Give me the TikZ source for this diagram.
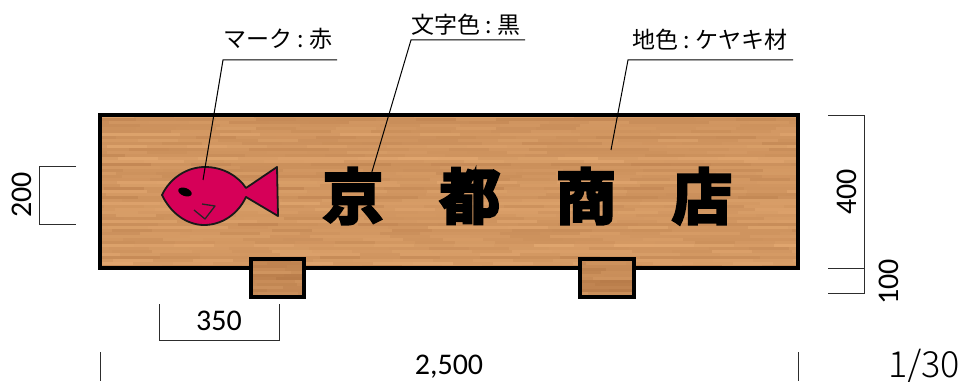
\documentclass[tikz,border=0pt]{standalone}
\usepackage{fontspec}
\setmainfont{Carlito}
\newfontfamily\jpfont{Noto Sans CJK JP}
\newfontfamily\thinfont{Noto Sans CJK JP Light}
\newfontfamily\signfont[FakeBold=5]{Noto Sans CJK JP Bold}
\usetikzlibrary{calc,positioning}

\definecolor{woodlight}{RGB}{230,172,116}
\definecolor{wooddark}{RGB}{184,124,74}
\definecolor{fishred}{RGB}{214,0,88}
\definecolor{dimgray}{RGB}{45,45,45}

\newcommand{\lblcolon}{\kern5.5pt:\kern5.5pt}
\newcommand{\woodpatch}[5]{%
  \begin{scope}
    \clip (#1,#2) rectangle (#3,#4);
    \foreach \y in {#2,...,#4} {
      \ifnum\numexpr\y-#2-3*((\y-#2-1)/3)\relax=0
      \pgfmathtruncatemacro{\rowtone}{random(#5,#5+40)}
      \pgfmathtruncatemacro{\rowshift}{random(0,40)}
      \foreach \x in {0,1,...,18} {
        \pgfmathtruncatemacro{\patchtone}{min(100,max(0,\rowtone+random(-12,12)))}
        \fill[woodlight!\patchtone!wooddark] ($(#1,\y)+(\x*40-\rowshift,0)$) rectangle ++(40.5,3.5);
      }
      \fi
    }
  \end{scope}
}

\begin{document}
\begin{tikzpicture}[x=1pt, y=-1pt, semithick,
   leader/.style={line width=1pt, black},
   dimline/.style={line width=0.9pt, dimgray},
   outline/.style={line width=3.1pt, black},
   label/.style={font=\jpfont\fontsize{23}{26}\selectfont, inner sep=0pt},
   dimtext/.style={font=\fontsize{30}{34}\selectfont, inner sep=0pt},
   signchar/.style={font=\signfont\fontsize{60}{64}\selectfont, inner sep=0pt}]

  \useasboundingbox (0,0) rectangle (966,382);
  \pgfmathsetseed{4711}

  % board
  \woodpatch{100}{115}{798}{268}{35}
  \draw[outline] (100,115) rectangle (798,268);
  % feet
  \woodpatch{251}{259}{304}{297}{5}
  \woodpatch{580}{259}{634}{297}{5}
  \draw[outline] (251,259) rectangle (304,297);
  \draw[outline] (580,259) rectangle (634,297);

  % fish
  \draw[fill=fishred, line width=1.8pt, draw=black!90, line join=round]
    (162,195) .. controls (170,178) and (187,167) .. (205,167)
    .. controls (223,167) and (238,176) .. (246,188)
    -- (277,167) -- (278,216) -- (246,197)
    .. controls (238,214) and (222,225) .. (204,225)
    .. controls (186,225) and (170,212) .. (162,195) -- cycle;
  \fill[black, rotate around={-20:(185,192)}] (185,192) ellipse (7 and 4);
  \draw[line width=1.3pt, draw=black!85, line join=round]
    (194,210) -- (205,219) -- (215,206) -- (202,204);

  % sign characters
  \node[signchar] (sign1) at (353,196) {京};
  \node[signchar] (sign2) at (470,196) {都};
  \node[signchar] (sign3) at (586,196) {商};
  \node[signchar] (sign4) at (702,196) {店};

  % leaders
  \coordinate (markhead) at (223,60);
  \coordinate (markshelf) at (337,60);
  \coordinate (marktip) at (203,180);
  \coordinate (charhead) at (411,40);
  \coordinate (charshelf) at (525,40);
  \coordinate (chartip) at (371,175);
  \coordinate (woodhead) at (628,60);
  \coordinate (woodshelf) at (793,60);
  \coordinate (woodtip) at (611,150);
  \draw[leader] (marktip) -- (markhead) -- (markshelf);
  \draw[leader] (chartip) -- (charhead) -- (charshelf);
  \draw[leader] (woodtip) -- (woodhead) -- (woodshelf);
  \node[label] (marklabel) at (278,39) {マーク\lblcolon 赤};
  \node[label] (charlabel) at (466,25) {文字色\lblcolon 黒};
  \node[label] (woodlabel) at (710,40) {地色\lblcolon ケヤキ材};

  % dimensions
  \coordinate (fisha) at (76,166);
  \coordinate (fishb) at (39,166);
  \coordinate (fishc) at (39,224);
  \coordinate (fishd) at (76,224);
  \draw[dimline] (fisha) -- (fishb) -- (fishc) -- (fishd);
  \node[dimtext, rotate=90] (fishdim) at (22,195) {200};

  \coordinate (boardtop) at (828,115);
  \coordinate (boardcorner) at (864,115);
  \coordinate (boardbot) at (828,268);
  \coordinate (boardmid) at (864,268);
  \coordinate (footbot) at (828,293);
  \coordinate (footcorner) at (864,293);
  \draw[dimline] (boardtop) -- (boardcorner) -- (footcorner) -- (footbot);
  \draw[dimline] (boardbot) -- (boardmid);
  \node[dimtext, rotate=90] (boarddim) at (847,192) {400};
  \node[dimtext, rotate=90] (footdim) at (889,282) {100};

  \coordinate (widtha) at (159,304);
  \coordinate (widthb) at (159,340);
  \coordinate (widthc) at (279,340);
  \coordinate (widthd) at (279,304);
  \draw[dimline] (widtha) -- (widthb) -- (widthc) -- (widthd);
  \node[dimtext] (widthdim) at (219,321) {350};

  \coordinate (lefta) at (100,352);
  \coordinate (leftb) at (100,381);
  \coordinate (righta) at (798,352);
  \coordinate (rightb) at (798,381);
  \draw[dimline] (lefta) -- (leftb);
  \draw[dimline] (righta) -- (rightb);
  \node[dimtext] (totaldim) at (449,367) {2,500};
  \node[inner sep=0pt, anchor=base, font=\thinfont\fontsize{36}{38}\selectfont] (scale) at (924,377) {1/30};
\end{tikzpicture}
\end{document}
